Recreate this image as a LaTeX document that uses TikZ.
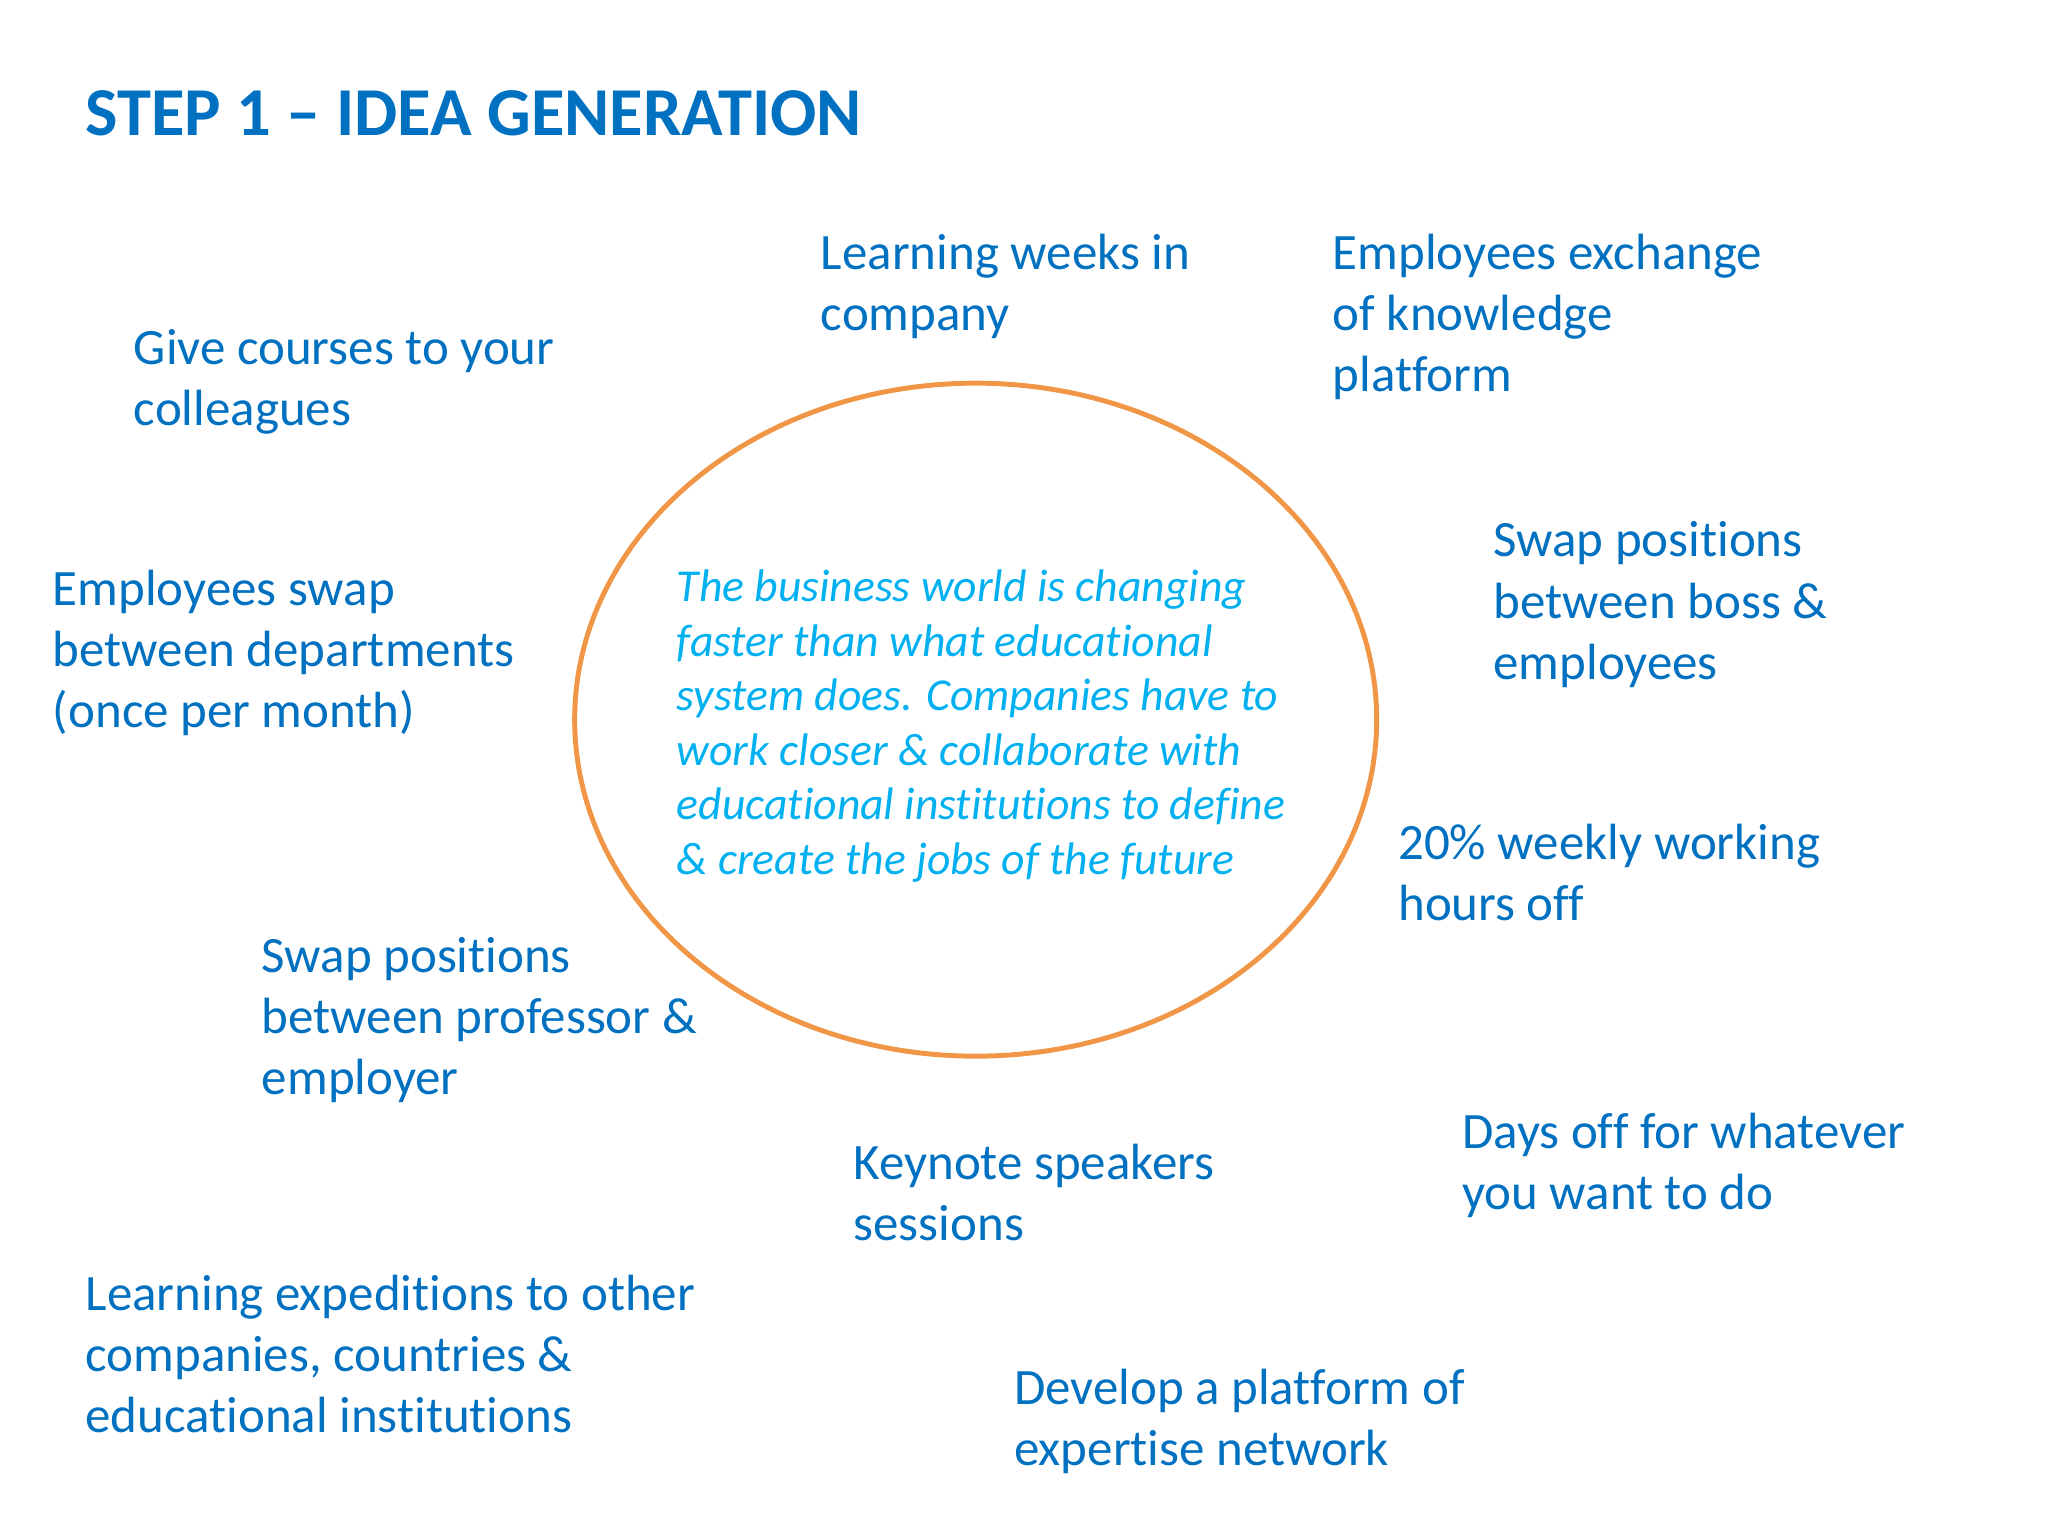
\documentclass[tikz,border=0pt]{standalone}
\usepackage{fontspec}
\setmainfont{Carlito}[Ligatures=NoCommon]
\usepackage{tikz}
\usetikzlibrary{shapes.geometric}
\definecolor{ideablue}{RGB}{0,112,192}
\definecolor{ideacyan}{RGB}{0,176,240}
\definecolor{ideaorange}{RGB}{240,150,70}

\begin{document}
\begin{tikzpicture}[x=0.013061cm, y=-0.013061cm, % 1 unit = 1 px of the slide
  idea/.style={anchor=base west, inner sep=0pt, align=left, text=ideablue,
    font=\fontsize{14.5}{17.4}\selectfont}, % placed at baseline of last line
  ring/.style={ellipse, draw=ideaorange, line width=1.4pt,
    minimum width=8.02cm, minimum height=6.73cm, inner sep=0pt},
  core/.style={inner sep=0pt, align=left, text=ideacyan,
    font=\fontsize{13}{15.5}\selectfont\itshape}]
  \useasboundingbox (0,0) rectangle (1568,1176); % slide frame

  \node[anchor=base west, inner sep=0pt, text=ideablue, font=\fontsize{19.5}{24}\selectfont\bfseries]
    (title) at (65,104) {STEP 1 -- IDEA GENERATION};

  \node[ring] (circ) at (747,551) {};
  \node[core] (msg) at (751,556) {The business world is changing\\faster than what educational\\system does. Companies have to\\work closer \& collaborate with\\educational institutions to define\\\& create the jobs of the future};

  % ideas around the circle
  \node[idea] (weeks) at (628,253) {Learning weeks in\\company};
  \node[idea] (exchange) at (1020,300) {Employees exchange\\of knowledge\\platform};
  \node[idea] (courses) at (102,326) {Give courses to your\\colleagues};
  \node[idea] (boss) at (1143,520) {Swap positions\\between boss \&\\employees};
  \node[idea] (depts) at (40,557) {Employees swap\\between departments\\(once per month)};
  \node[idea] (hours) at (1070,705) {20\% weekly working\\hours off};
  \node[idea] (prof) at (200,838) {Swap positions\\between professor \&\\employer};
  \node[idea] (keynote) at (653,950) {Keynote speakers\\sessions};
  \node[idea] (daysoff) at (1119,926) {Days off for whatever\\you want to do};
  \node[idea] (trips) at (65,1097) {Learning expeditions to other\\companies, countries \&\\educational institutions};
  \node[idea] (expert) at (776,1122) {Develop a platform of\\expertise network};
\end{tikzpicture}
\end{document}
